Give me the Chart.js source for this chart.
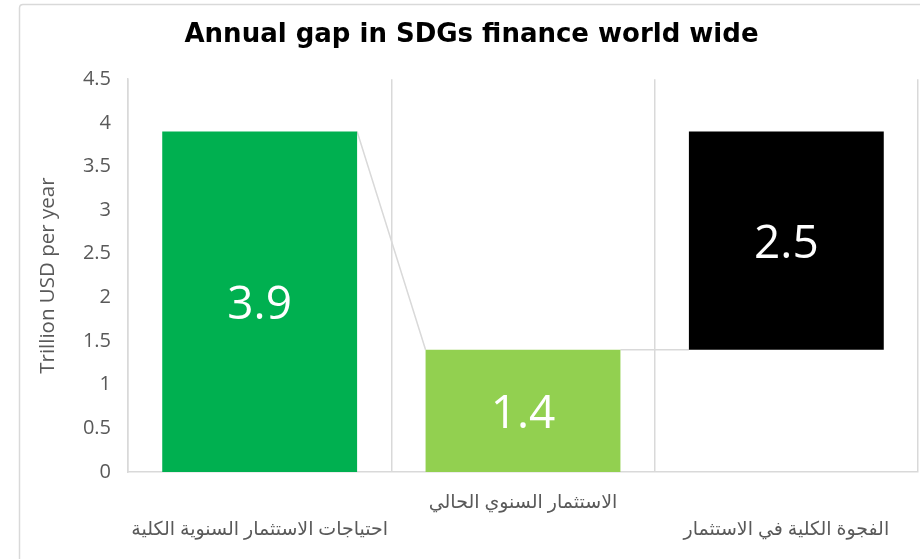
<!DOCTYPE html>
<html>
<head>
<meta charset="utf-8">
<script src="https://cdn.jsdelivr.net/npm/chart.js@4.4.1/dist/chart.umd.min.js"></script>
<style>
  html, body { margin: 0; background: #fff; }
</style>
</head>
<body>
<canvas id="myChart" width="920" height="559"></canvas>
<script>
const categories = [
    'احتياجات الاستثمار السنوية الكلية',
    'الاستثمار السنوي الحالي',
    'الفجوة الكلية في الاستثمار'
];
const values = [3.9, 1.4, 2.5];
const barColors = ['#00B050', '#92D050', '#000000'];
const yMin = 0, yMax = 4.5, yStep = 0.5;

// waterfall: needs from 0, current from 0, gap sits on top of current
const ranges = [
    [0, values[0]],
    [0, values[1]],
    [values[1], values[1] + values[2]]
];

// the middle label sits one line higher than the other two
const xLabels = categories.map((c, i) => i === 1 ? c : ['', c]);

const gray = '#d9d9d9';
const textGray = '#595959';

const framePlugin = {
    id: 'frame',
    beforeDraw(chart) {
        const c = chart.ctx;
        c.save();
        c.strokeStyle = gray;
        c.lineWidth = 1.5;
        c.beginPath();
        c.moveTo(19.5, 600);
        c.lineTo(19.5, 8);
        c.quadraticCurveTo(19.5, 4.5, 23, 4.5);
        c.lineTo(1000, 4.5);
        c.stroke();
        c.restore();
    }
};

const connectorPlugin = {
    id: 'connectors',
    beforeDatasetsDraw(chart) {
        const bars = chart.getDatasetMeta(0).data;
        const c = chart.ctx;
        c.save();
        c.strokeStyle = gray;
        c.lineWidth = 1.5;
        c.beginPath();
        const b0 = bars[0], b1 = bars[1], b2 = bars[2];
        c.moveTo(b0.x + b0.width / 2, b0.y);
        c.lineTo(b1.x - b1.width / 2, b1.y);
        c.moveTo(b1.x + b1.width / 2, b1.y);
        c.lineTo(b2.x - b2.width / 2, b2.base);
        c.stroke();
        c.restore();
    }
};

const valueLabelPlugin = {
    id: 'valueLabels',
    afterDatasetsDraw(chart) {
        const bars = chart.getDatasetMeta(0).data;
        const c = chart.ctx;
        c.save();
        c.fillStyle = '#ffffff';
        c.font = '46px "Open Sans", sans-serif';
        c.textAlign = 'center';
        c.textBaseline = 'middle';
        bars.forEach((b, i) => {
            c.fillText(String(values[i]), b.x, (b.y + b.base) / 2 + 4);
        });
        c.restore();
    }
};

const ctx = document.getElementById('myChart').getContext('2d');

const myChart = new Chart(ctx, {
    type: 'bar',
    data: {
        labels: xLabels,
        datasets: [{
            data: ranges,
            backgroundColor: barColors,
            borderWidth: 0,
            categoryPercentage: 1,
            barPercentage: 0.74
        }]
    },
    options: {
        responsive: false,
        animation: false,
        layout: { padding: { left: 25, right: 2, top: 0, bottom: 0 } },
        plugins: {
            legend: { display: false },
            tooltip: { enabled: false },
            title: {
                display: true,
                text: 'Annual gap in SDGs finance world wide',
                color: '#000000',
                font: { family: '"DejaVu Sans"', size: 26, weight: 'bold' },
                padding: { top: 20, bottom: 28 }
            }
        },
        scales: {
            x: {
                offset: true,
                grid: { display: true, offset: true, color: gray, lineWidth: 1.5, drawTicks: false },
                border: { display: true, color: gray, width: 1.5 },
                ticks: {
                    color: textGray,
                    font: { family: '"Open Sans", "DejaVu Sans", sans-serif', size: 19, lineHeight: 1.42 },
                    padding: 17,
                    maxRotation: 0,
                    autoSkip: false
                },
                afterFit(scale) { scale.height = 87; }
            },
            y: {
                min: yMin,
                max: yMax,
                grid: { display: false, drawTicks: false },
                border: { display: true, color: gray, width: 1.5 },
                ticks: {
                    stepSize: yStep,
                    color: textGray,
                    font: { family: '"Open Sans", sans-serif', size: 20 },
                    padding: 17,
                    callback: (v) => String(v)
                },
                title: {
                    display: true,
                    text: 'Trillion USD per year',
                    color: textGray,
                    font: { family: '"Open Sans", sans-serif', size: 20.5 },
                    padding: { top: 11, bottom: 0 }
                },
                afterFit(scale) { scale.width = 103; }
            }
        }
    },
    plugins: [framePlugin, connectorPlugin, valueLabelPlugin]
});
</script>
</body>
</html>
